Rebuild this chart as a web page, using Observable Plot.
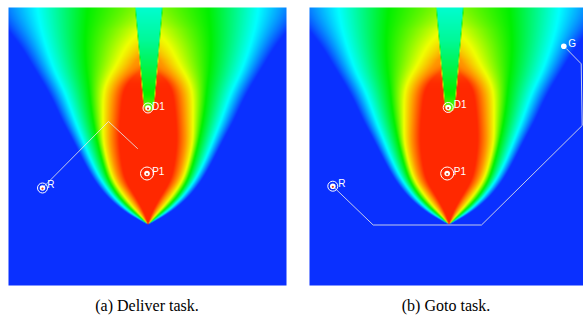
<!DOCTYPE html>
<html><head><meta charset="utf-8">
<script src="https://cdn.jsdelivr.net/npm/d3@7"></script>
<script src="https://cdn.jsdelivr.net/npm/@observablehq/plot@0.6"></script>
<style>
html,body{margin:0;padding:0;background:#fff;}
body{width:583px;height:316px;position:relative;overflow:hidden;}
.panel{position:absolute;top:7px;}
.panel svg{display:block;}
.cap{position:absolute;top:298px;width:200px;text-align:center;font-family:"Liberation Serif","Times New Roman",serif;font-size:16px;line-height:16px;color:#000;}
</style></head>
<body>
<div id="pa" class="panel" style="left:8px"></div>
<div id="pb" class="panel" style="left:309px"></div>
<div class="cap" style="left:47px">(a) Deliver task.</div>
<div class="cap" style="left:346px">(b) Goto task.</div>
<script>
// ---- field readings (panel coordinates; depth = distance above the apex; widths = half-widths) ----
const depths  = [0, 12, 24, 44, 64, 84, 104, 124, 137, 150, 158, 175, 185, 200, 217];
const centerT = [1, 1, 1, 1, 1, 1, 1, 1, 1, 1, 0.9, 0.86, 0.8, 0.74, 0.66];
const redW    = [0, 4, 10, 23, 27, 29, 28, 26, 24, 14, 0, 0, 0, 0, 0];
const orangeW = [0, 7, 15, 30, 35, 38, 37, 36, 34, 25, 14, 5, 0, 0, 0];
const yellowW = [0, 10, 21, 35, 41, 45, 45, 45, 44, 38, 32, 24, 18, 0, 0];
const greenW  = [0, 13, 27, 40, 46, 51, 55, 58, 59, 61, 62, 63, 63, 62, 60];
const cyanW   = [0, 18, 32, 47, 57, 65, 73, 80, 85, 92, 95, 101, 104, 108, 111];
const blueW   = [0, 22, 38, 54, 65, 75, 86, 95, 102, 110, 115, 125, 132, 145, 160];
const levelT  = [1, 0.89, 0.76, 0.49, 0.22, 0];
const levelColors = ["#ff2800", "#ff9600", "#f0ff00", "#00f000", "#00ffff", "#0a30ff"];
const apex = [139.5, 217];
// shadow wedge above D1
const wedgeY    = [0, 96, 100, 102.5, 104];
const wedgeHalf = [13.5, 5.2, 4.5, 3, 0];
const wedgeTY   = [0, 33, 63, 88, 100];
const wedgeTV   = [0.27, 0.33, 0.42, 0.5, 0.6];
const wedgeCx = 140.4;

// ---- overlays ----
const markA = {name: ["D1", "P1", "R"], x: [139.5, 138.5, 34], y: [100.5, 166, 180.5], ring: [5, 6.5, 5]};
const labelA = {x: [143.5, 143.7, 38.7], y: [99, 164, 177.5]};
const pathA = {x: [34, 100, 129], y: [180.5, 114, 141]};
const markB = {name: ["D1", "P1", "R"], x: [138.7, 137.7, 23.3], y: [100, 166, 178.7], ring: [5, 6.5, 5]};
const labelB = {x: [144.3, 144.3, 28.7], y: [97.5, 164.5, 176]};
const goalB = {name: ["G"], x: [254.3], y: [38.7]};
const pathB = {x: [23.3, 63.7, 172, 272.7, 271.7, 257], y: [178.7, 217.5, 217.5, 118, 56.3, 41.3]};

// resample the readings per unit depth and smooth them along depth
const DMAX = 220;
function resample(arr) {
  const s = d3.scaleLinear().domain(depths).range(arr).clamp(true);
  return d3.range(DMAX + 1).map(d => s(d));
}
function smooth(a) {
  return a.map((v, d) => {
    const sg = Math.min(7, d / 3);
    if (sg < 0.5) return v;
    const R = Math.ceil(3 * sg);
    let sw = 0, sv = 0;
    for (let k = -R; k <= R; k++) {
      const j = Math.max(0, Math.min(DMAX, d + k));
      const w = Math.exp(-k * k / (2 * sg * sg));
      sw += w; sv += w * a[j];
    }
    return sv / sw;
  });
}
const bTables = [redW, orangeW, yellowW, greenW, cyanW, blueW].map(a => smooth(resample(a)));
const cTable = smooth(resample(centerT));
function look(tab, d) {
  const i = Math.max(0, Math.min(DMAX - 1, Math.floor(d)));
  const f = Math.max(0, Math.min(1, d - i));
  return tab[i] * (1 - f) + tab[i + 1] * f;
}
const wHalf = d3.scaleLinear().domain(wedgeY).range(wedgeHalf).clamp(true);
const wT = d3.scaleLinear().domain(wedgeTY).range(wedgeTV).clamp(true);

function field(x, y) {
  const d = apex[1] - y;
  let t = 0;
  if (d > 0) {
    const dx = Math.abs(x - apex[0]);
    const c = Math.min(1, look(cTable, d));
    const xs = [0], ts = [c];
    for (let k = 0; k < levelT.length; k++) {
      const w = look(bTables[k], d);
      if (w > xs[xs.length - 1] + 1e-6) { xs.push(w); ts.push(Math.min(levelT[k], c)); }
    }
    if (dx >= xs[xs.length - 1]) t = 0;
    else {
      let i = 0;
      while (i < xs.length - 1 && dx > xs[i + 1]) i++;
      const f = (dx - xs[i]) / (xs[i + 1] - xs[i]);
      t = ts[i] + (ts[i + 1] - ts[i]) * f;
    }
  }
  if (y < wedgeY[wedgeY.length - 1]) {
    const h = wHalf(y);
    const m = Math.max(0, Math.min(1, h - Math.abs(x - wedgeCx) + 0.5));
    if (m > 0) t = t * (1 - m) + wT(y) * m;
  }
  return t;
}

function panel(W, marks, labels, path, goal) {
  const H = 278;
  const font = "Liberation Sans, Arial, sans-serif";
  const layers = [
    Plot.raster({x1: 0, x2: W, y1: 0, y2: H, width: W, height: H, fill: field}),
    Plot.line(path.x.map((x, i) => [x, path.y[i]]), {x: d => d[0], y: d => d[1], stroke: "#e6e6e6", strokeWidth: 1, strokeOpacity: 0.85}),
    Plot.dot(marks.name, {x: (d, i) => marks.x[i], y: (d, i) => marks.y[i], r: (d, i) => marks.ring[i], stroke: "white", strokeWidth: 1, fill: "none"}),
    Plot.dot(marks.name, {x: (d, i) => marks.x[i], y: (d, i) => marks.y[i], r: 2.8, fill: "white", stroke: "none"}),
    Plot.dot(marks.name, {x: (d, i) => marks.x[i], y: (d, i) => marks.y[i] + 0.6, r: 1.1, fill: "#e0401a", stroke: "none"}),
    Plot.text(marks.name, {x: (d, i) => labels.x[i], y: (d, i) => labels.y[i], text: d => d, fill: "white", fontSize: 10, textAnchor: "start", fontFamily: font})
  ];
  if (goal) {
    layers.push(Plot.dot(goal.name, {x: (d, i) => goal.x[i], y: (d, i) => goal.y[i], r: 2.8, fill: "white", stroke: "none"}));
    layers.push(Plot.text(goal.name, {x: (d, i) => goal.x[i] + 4.5, y: (d, i) => goal.y[i] - 2.5, text: d => d, fill: "white", fontSize: 10, textAnchor: "start", fontFamily: font}));
  }
  return Plot.plot({
    width: W, height: H,
    margin: 0, marginTop: 0, marginRight: 0, marginBottom: 0, marginLeft: 0,
    x: {domain: [0, W], axis: null},
    y: {domain: [0, H], reverse: true, axis: null},
    r: {type: "identity"},
    color: {type: "linear", domain: levelT.slice().reverse(), range: levelColors.slice().reverse(), interpolate: "rgb", clamp: true},
    style: {background: "transparent", overflow: "visible"},
    marks: layers
  });
}

document.getElementById("pa").appendChild(panel(278, markA, labelA, pathA, null));
document.getElementById("pb").appendChild(panel(274, markB, labelB, pathB, goalB));
</script>
</body></html>
